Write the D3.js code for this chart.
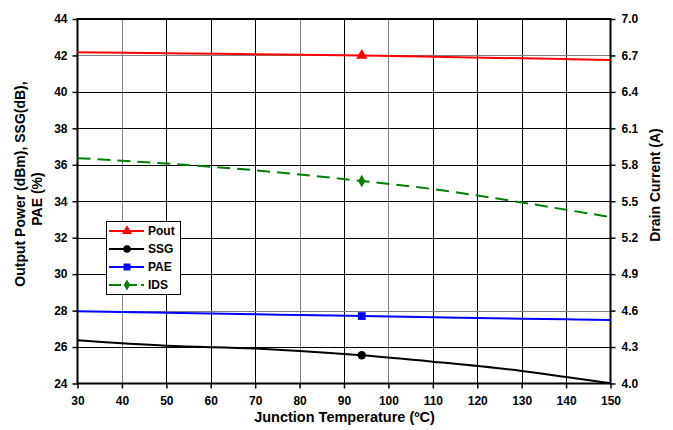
<!DOCTYPE html>
<html><head><meta charset="utf-8">
<script src="https://cdn.jsdelivr.net/npm/d3@7"></script>
<style>body{margin:0;background:#fff}svg{display:block;font-family:Arial,"Liberation Sans",sans-serif}</style>
</head><body><svg id="c" width="673" height="430"></svg>
<script>
const temps = [30, 50, 70, 80, 94, 110, 130, 140, 150];
const pout = [42.17, 42.12, 42.07, 42.04, 42.0, 41.93, 41.84, 41.8, 41.75];
const ssg  = [26.37, 26.07, 25.92, 25.79, 25.55, 25.2, 24.69, 24.36, 24.02];
const pae  = [27.96, 27.88, 27.8, 27.76, 27.7, 27.63, 27.55, 27.52, 27.48];
const ids  = [5.855, 5.81, 5.755, 5.72, 5.667, 5.6, 5.49, 5.43, 5.37];
const markerTemp = 94;
const xTicks = [30,40,50,60,70,80,90,100,110,120,130,140,150];
const yTicks = [24,26,28,30,32,34,36,38,40,42,44];
const y2Ticks = [4.0,4.3,4.6,4.9,5.2,5.5,5.8,6.1,6.4,6.7,7.0];
const legendNames = ["Pout","SSG","PAE","IDS"];

const L=77.5, R=610.5, T=19, B=383.5;
const svg = d3.select("#c");
const x = d3.scaleLinear().domain([30,150]).range([L,R]);
const y = d3.scaleLinear().domain([24,44]).range([B,T]);
const y2 = d3.scaleLinear().domain([4,7]).range([B,T]);

// grid
const g = svg.append("g");
g.selectAll(".vg").data(xTicks.slice(1,-1)).enter().append("line")
 .attr("x1",d=>Math.round(x(d))+0.5).attr("x2",d=>Math.round(x(d))+0.5).attr("y1",T).attr("y2",B)
 .attr("stroke",d=>[40,80,100].includes(d)?"#808080":"#000").attr("stroke-width",1);
g.selectAll(".hg").data(yTicks.slice(1,-1)).enter().append("line")
 .attr("y1",d=>Math.round(y(d))+0.5).attr("y2",d=>Math.round(y(d))+0.5).attr("x1",L).attr("x2",R)
 .attr("stroke",d=>[42,28].includes(d)?"#808080":"#000").attr("stroke-width",1);

// axes
const fontStyle = sel => sel.selectAll("text").attr("font-size",12).attr("font-weight","bold").attr("fill","#000")
  .attr("font-family","Arial, 'Liberation Sans', sans-serif");
const ax = svg.append("g").attr("transform",`translate(0,${B})`)
 .call(d3.axisBottom(x).tickValues(xTicks).tickSize(5).tickPadding(8).tickFormat(d3.format("d")));
ax.call(fontStyle);
const ay = svg.append("g").attr("transform",`translate(${L},0)`)
 .call(d3.axisLeft(y).tickValues(yTicks).tickSize(5).tickPadding(5).tickFormat(d3.format("d")));
ay.call(fontStyle);
const ay2 = svg.append("g").attr("transform",`translate(${R},0)`)
 .call(d3.axisRight(y2).tickValues(y2Ticks).tickSize(5).tickPadding(6).tickFormat(d3.format(".1f")));
ay2.call(fontStyle);
svg.selectAll(".domain").attr("stroke","none");
svg.selectAll(".tick line").attr("stroke","#000").attr("stroke-width",1.5);
// frame
svg.append("rect").attr("x",L).attr("y",T).attr("width",R-L).attr("height",B-T)
 .attr("fill","none").attr("stroke","#000").attr("stroke-width",2);

// lines
const curve = d3.curveMonotoneX;
const lineL = d3.line().x(d=>x(d[0])).y(d=>y(d[1])).curve(curve);
const lineR = d3.line().x(d=>x(d[0])).y(d=>y2(d[1])).curve(curve);
const series = [
 {name:"Pout", vals:pout, color:"#ff0000", gen:lineL, ys:y, marker:"triangle", dash:null},
 {name:"SSG", vals:ssg, color:"#000000", gen:lineL, ys:y, marker:"circle", dash:null},
 {name:"PAE", vals:pae, color:"#0000ff", gen:lineL, ys:y, marker:"square", dash:null},
 {name:"IDS", vals:ids, color:"#008000", gen:lineR, ys:y2, marker:"diamond", dash:"13,7"},
];
const symType = {triangle:d3.symbolTriangle, circle:d3.symbolCircle, square:d3.symbolSquare, diamond:d3.symbolDiamond};
const symSize = {triangle:55, circle:55, square:60, diamond:45};
series.forEach(s=>{
  const pts = temps.map((t,i)=>[t,s.vals[i]]);
  svg.append("path").attr("d",s.gen(pts)).attr("fill","none").attr("stroke",s.color)
    .attr("stroke-width",2).attr("stroke-dasharray",s.dash);
  const mi = temps.indexOf(markerTemp);
  svg.append("path").attr("d",d3.symbol().type(symType[s.marker]).size(symSize[s.marker])())
    .attr("transform",`translate(${x(markerTemp)},${s.ys(s.vals[mi])})`).attr("fill",s.color);
});

// legend
const lg = svg.append("g");
lg.append("rect").attr("x",106.5).attr("y",221.5).attr("width",74).attr("height",73)
 .attr("fill","#fff").attr("stroke","#000").attr("stroke-width",1);
series.forEach((s,i)=>{
  const yy = 231 + i*18;
  lg.append("line").attr("x1",109).attr("x2",144).attr("y1",yy).attr("y2",yy)
   .attr("stroke",s.color).attr("stroke-width",2).attr("stroke-dasharray",s.dash?"12,4":null);
  lg.append("path").attr("d",d3.symbol().type(symType[s.marker]).size(symSize[s.marker]*0.8)())
   .attr("transform",`translate(127,${yy})`).attr("fill",s.color);
  lg.append("text").attr("x",148).attr("y",yy+4).text(legendNames[i])
   .attr("font-size",12).attr("font-weight","bold");
});

// axis titles
svg.append("text").attr("x",344.5).attr("y",422).attr("text-anchor","middle")
 .attr("font-size",14.5).attr("font-weight","bold").text("Junction Temperature (ºC)");
const lt = svg.append("g").attr("font-size",14).attr("font-weight","bold").attr("text-anchor","middle");
lt.append("text").attr("transform",`translate(25,184) rotate(-90)`).text("Output Power (dBm), SSG(dB),");
lt.append("text").attr("transform",`translate(42,199) rotate(-90)`).text("PAE (%)");
svg.append("text").attr("transform",`translate(660,185) rotate(-90)`)
 .attr("text-anchor","middle").attr("font-size",14).attr("font-weight","bold").text("Drain Current (A)");
</script></body></html>
